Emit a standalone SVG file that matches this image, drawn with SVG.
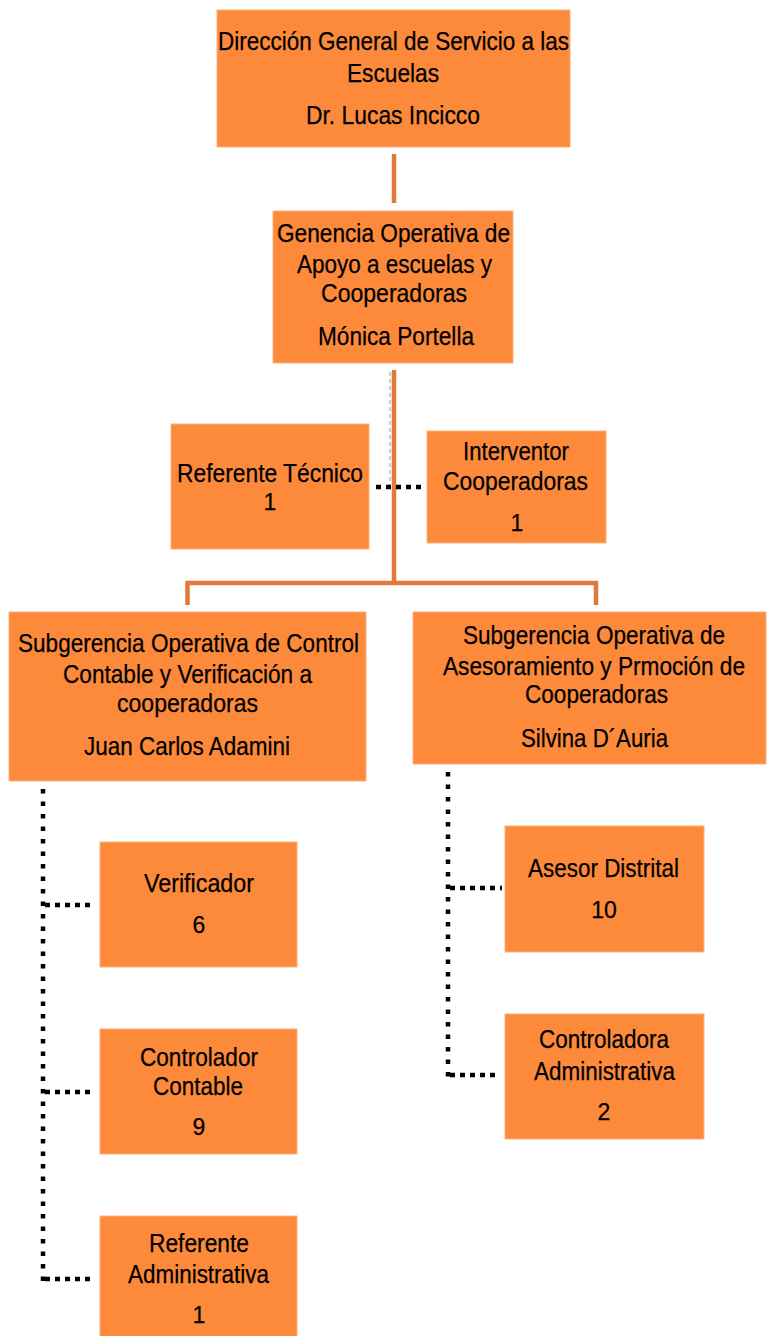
<svg xmlns="http://www.w3.org/2000/svg" width="767" height="1336" viewBox="0 0 767 1336">
<style>
.box{fill:#FC8A3A;stroke:#FDB27F;stroke-width:1}
text{font-family:"Liberation Sans",Arial,sans-serif;font-size:26px;fill:#000;text-anchor:middle;stroke:#000;stroke-width:0.25}
.n{font-size:23px}
.solid{stroke:#DF7A38;stroke-width:4.5;fill:none}
.dv{stroke:#000;stroke-width:4.5;stroke-dasharray:4.5 8;fill:none}
.dh{stroke:#000;stroke-width:4.5;stroke-dasharray:5 5;fill:none}
.ghost{stroke:#BDBDBD;stroke-width:1.5;stroke-dasharray:4 3;fill:none}
</style>
<rect width="767" height="1336" fill="#fff"/>
<g id="connectors">
<line class="solid" x1="394" y1="154" x2="394" y2="203"/>
<line class="ghost" x1="390" y1="372" x2="390" y2="488"/>
<line class="solid" x1="394" y1="370" x2="394" y2="583"/>
<polyline class="solid" points="187.5,605 187.5,583 596,583 596,605"/>
<line class="dh" x1="376" y1="487" x2="424" y2="487"/>
<line class="dv" x1="43" y1="789" x2="43" y2="1281"/>
<line class="dh" x1="45" y1="905" x2="95" y2="905"/>
<line class="dh" x1="45" y1="1092" x2="92" y2="1092"/>
<line class="dh" x1="45" y1="1279" x2="92" y2="1279"/>
<line class="dv" x1="448" y1="772" x2="448" y2="1077"/>
<line class="dh" x1="450" y1="888" x2="502" y2="888"/>
<line class="dh" x1="450" y1="1075" x2="497" y2="1075"/>
</g>
<g id="direccion">
<rect class="box" x="217" y="10" width="353" height="137"/>
<text x="393.5" y="50" textLength="351" lengthAdjust="spacingAndGlyphs">Dirección General de Servicio a las</text>
<text x="393" y="82" textLength="92" lengthAdjust="spacingAndGlyphs">Escuelas</text>
<text x="393" y="124" textLength="174" lengthAdjust="spacingAndGlyphs">Dr. Lucas Incicco</text>
</g>
<g id="gerencia">
<rect class="box" x="273" y="211" width="240" height="152"/>
<text x="393.5" y="242" textLength="233" lengthAdjust="spacingAndGlyphs">Genencia Operativa de</text>
<text x="394.5" y="273" textLength="195" lengthAdjust="spacingAndGlyphs">Apoyo a escuelas y</text>
<text x="394" y="302" textLength="146" lengthAdjust="spacingAndGlyphs">Cooperadoras</text>
<text x="396" y="345" textLength="156" lengthAdjust="spacingAndGlyphs">Mónica Portella</text>
</g>
<g id="referente-tecnico">
<rect class="box" x="171" y="424" width="198" height="125"/>
<text x="270" y="482" textLength="186" lengthAdjust="spacingAndGlyphs">Referente Técnico</text>
<text class="n" x="270" y="510">1</text>
</g>
<g id="interventor">
<rect class="box" x="427" y="431" width="179" height="112"/>
<text x="516" y="460" textLength="106" lengthAdjust="spacingAndGlyphs">Interventor</text>
<text x="515.5" y="490" textLength="145" lengthAdjust="spacingAndGlyphs">Cooperadoras</text>
<text class="n" x="517" y="531">1</text>
</g>
<g id="subgerencia-control">
<rect class="box" x="9" y="612" width="357" height="169"/>
<text x="188.5" y="652" textLength="341" lengthAdjust="spacingAndGlyphs">Subgerencia Operativa de Control</text>
<text x="187.5" y="683" textLength="249" lengthAdjust="spacingAndGlyphs">Contable y Verificación a</text>
<text x="187.5" y="712" textLength="141" lengthAdjust="spacingAndGlyphs">cooperadoras</text>
<text x="187" y="755" textLength="206" lengthAdjust="spacingAndGlyphs">Juan Carlos Adamini</text>
</g>
<g id="subgerencia-asesoramiento">
<rect class="box" x="413" y="612" width="353" height="152"/>
<text x="594" y="644" textLength="262" lengthAdjust="spacingAndGlyphs">Subgerencia Operativa de</text>
<text x="594" y="675" textLength="302" lengthAdjust="spacingAndGlyphs">Asesoramiento y Prmoción de</text>
<text x="596.5" y="703" textLength="143" lengthAdjust="spacingAndGlyphs">Cooperadoras</text>
<text x="594.5" y="747" textLength="147" lengthAdjust="spacingAndGlyphs">Silvina D´Auria</text>
</g>
<g id="verificador">
<rect class="box" x="100" y="842" width="197" height="125"/>
<text x="199" y="892" textLength="110" lengthAdjust="spacingAndGlyphs">Verificador</text>
<text class="n" x="199" y="933">6</text>
</g>
<g id="controlador-contable">
<rect class="box" x="100" y="1029" width="197" height="125"/>
<text x="199" y="1066" textLength="118" lengthAdjust="spacingAndGlyphs">Controlador</text>
<text x="198" y="1095" textLength="90" lengthAdjust="spacingAndGlyphs">Contable</text>
<text class="n" x="199" y="1135">9</text>
</g>
<g id="referente-administrativa">
<rect class="box" x="100" y="1216" width="197" height="125"/>
<text x="199" y="1252" textLength="100" lengthAdjust="spacingAndGlyphs">Referente</text>
<text x="198.5" y="1283" textLength="141" lengthAdjust="spacingAndGlyphs">Administrativa</text>
<text class="n" x="199" y="1323">1</text>
</g>
<g id="asesor-distrital">
<rect class="box" x="505" y="826" width="199" height="126"/>
<text x="603.5" y="877" textLength="151" lengthAdjust="spacingAndGlyphs">Asesor Distrital</text>
<text class="n" x="604" y="918">10</text>
</g>
<g id="controladora-administrativa">
<rect class="box" x="505" y="1014" width="199" height="125"/>
<text x="604" y="1048" textLength="130" lengthAdjust="spacingAndGlyphs">Controladora</text>
<text x="604.5" y="1080" textLength="141" lengthAdjust="spacingAndGlyphs">Administrativa</text>
<text class="n" x="604" y="1120">2</text>
</g>
</svg>
